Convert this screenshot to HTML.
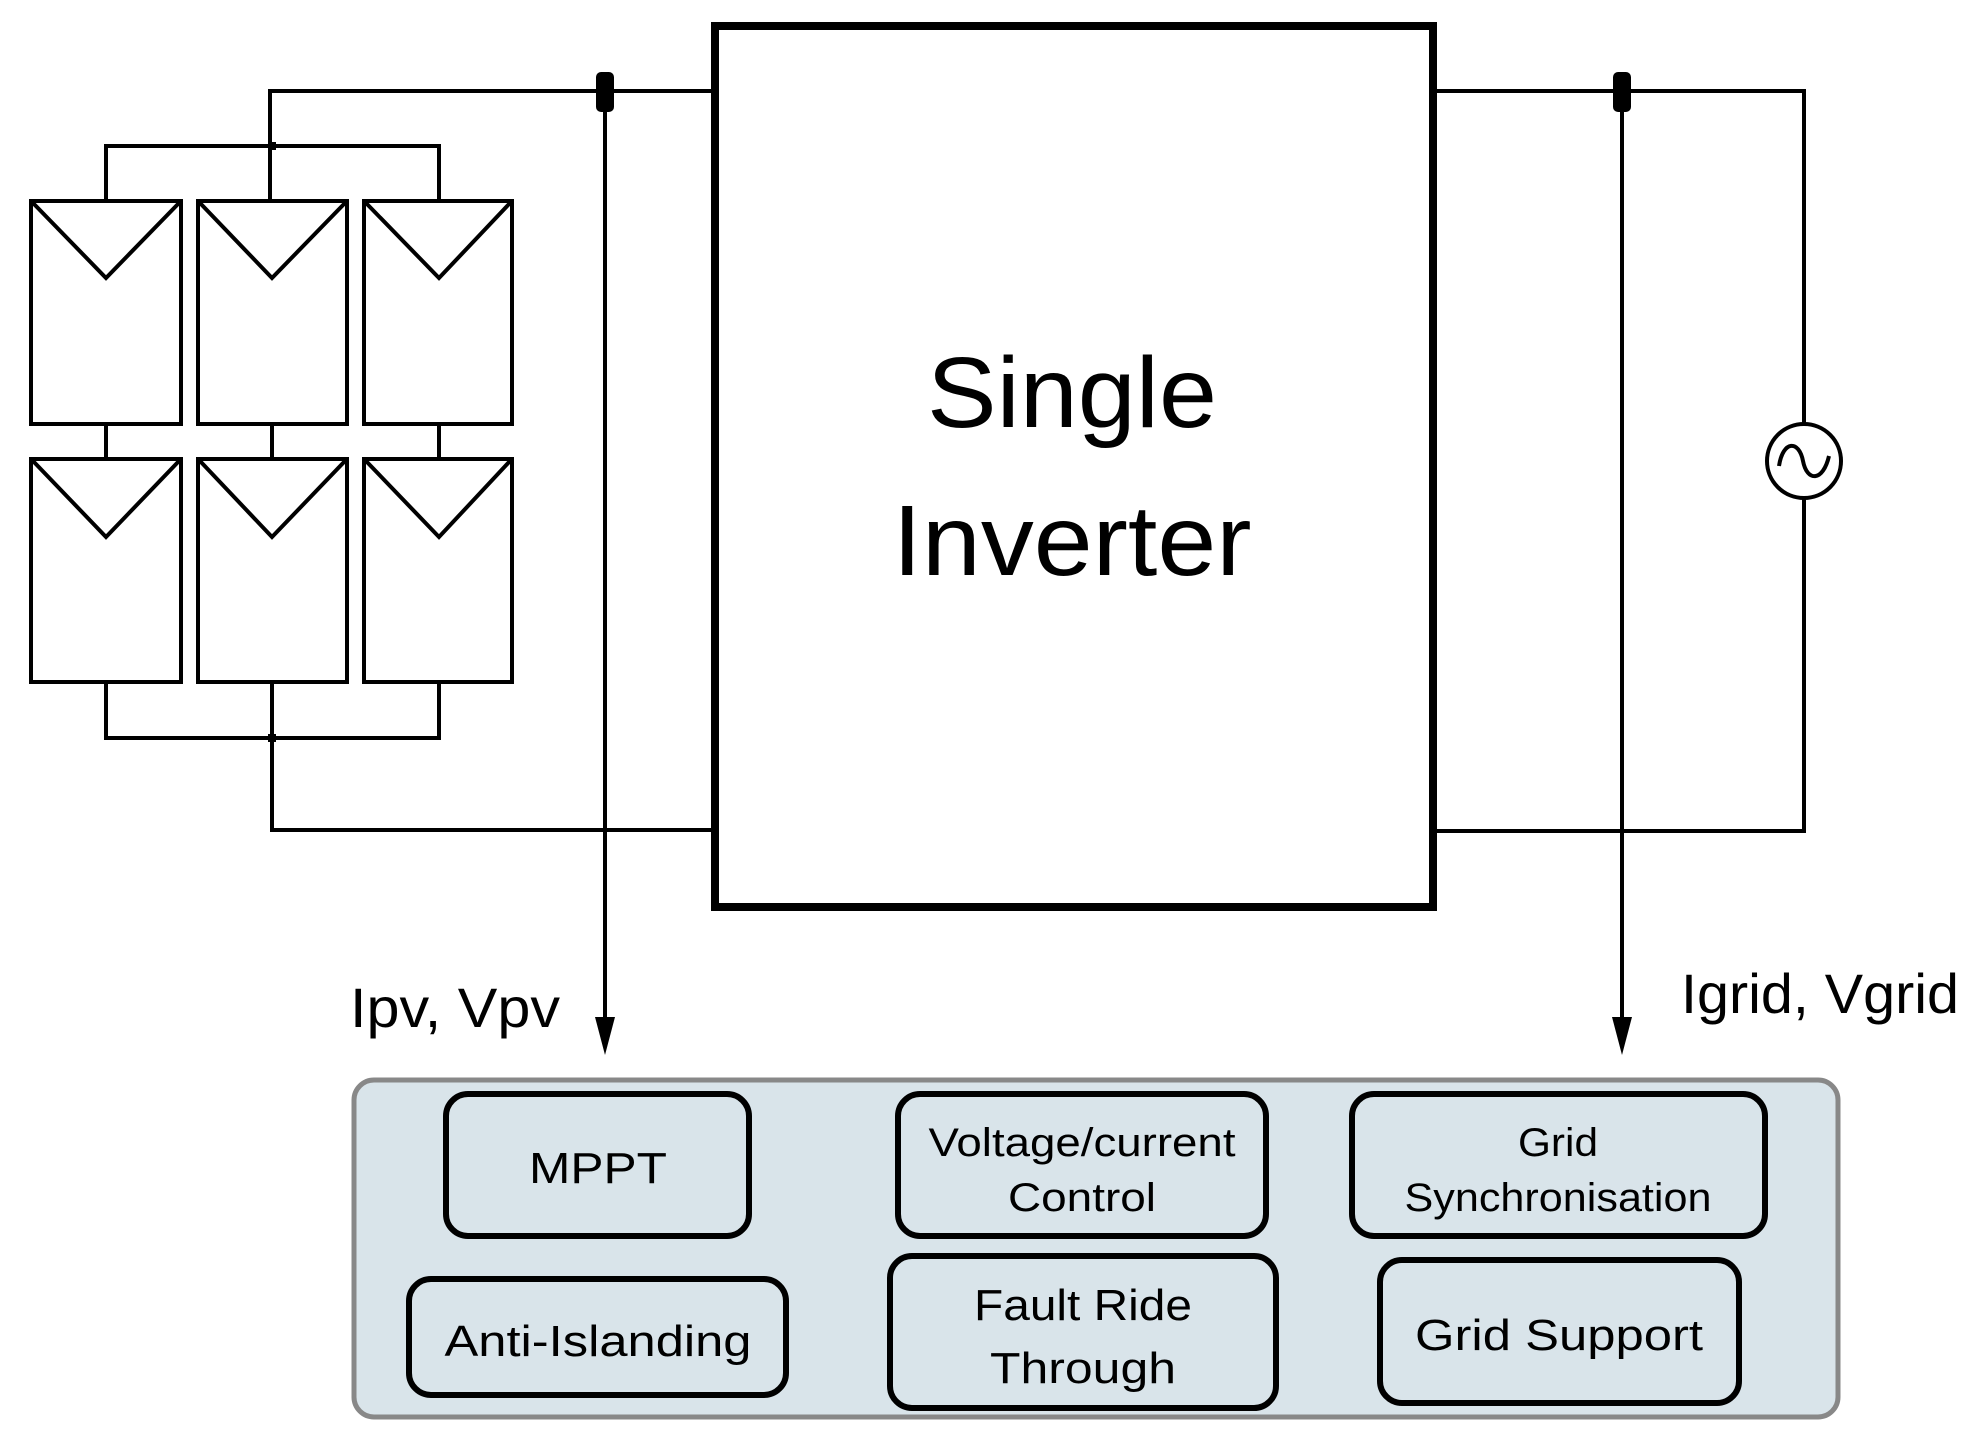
<!DOCTYPE html>
<html><head><meta charset="utf-8"><style>html,body{margin:0;padding:0;background:#fff}svg{display:block}</style></head>
<body>
<svg width="1975" height="1437" viewBox="0 0 1975 1437" xmlns="http://www.w3.org/2000/svg" font-family="'Liberation Sans', sans-serif">
<g stroke="#000" stroke-width="4" fill="none">
<polyline points="715,91 270,91 270,146"/>
<polyline points="106,201 106,146 439,146 439,201"/>
<line x1="270" y1="146" x2="270" y2="201"/>
<line x1="106" y1="424" x2="106" y2="459"/>
<line x1="272" y1="424" x2="272" y2="459"/>
<line x1="439" y1="424" x2="439" y2="459"/>
<polyline points="106,682 106,738 439,738 439,682"/>
<polyline points="272,682 272,830 715,830"/>
<rect x="31" y="201" width="150" height="223"/>
<rect x="198" y="201" width="149" height="223"/>
<rect x="364" y="201" width="148" height="223"/>
<rect x="31" y="459" width="150" height="223"/>
<rect x="198" y="459" width="149" height="223"/>
<rect x="364" y="459" width="148" height="223"/>
<polyline points="33,203 106,278 179,203"/>
<polyline points="200,203 272,278 345,203"/>
<polyline points="366,203 439,278 510,203"/>
<polyline points="33,461 106,537 179,461"/>
<polyline points="200,461 272,537 345,461"/>
<polyline points="366,461 439,537 510,461"/>
<polyline points="1433,91 1804,91 1804,423"/>
<polyline points="1804,499 1804,831 1433,831"/>
<circle cx="1804" cy="461" r="37"/>
<path d="M1779,466 C1783,440 1799,440 1803,461 C1807,482 1823,482 1829,456"/>
<line x1="605" y1="100" x2="605" y2="1020"/>
<line x1="1622" y1="100" x2="1622" y2="1020"/>
</g>
<rect x="268" y="142" width="8" height="8" fill="#000"/>
<rect x="268" y="734" width="8" height="8" fill="#000"/>
<rect x="596" y="72" width="18" height="40" rx="5" fill="#000"/>
<rect x="1613" y="72" width="18" height="40" rx="5" fill="#000"/>
<polygon points="595,1017 615,1017 605,1055" fill="#000"/>
<polygon points="1612,1017 1632,1017 1622,1055" fill="#000"/>
<rect x="715" y="26" width="718" height="881" fill="none" stroke="#000" stroke-width="8"/>
<text x="1072" y="427" font-size="100" text-anchor="middle" textLength="290" lengthAdjust="spacingAndGlyphs">Single</text>
<text x="1072" y="575" font-size="100" text-anchor="middle" textLength="359" lengthAdjust="spacingAndGlyphs">Inverter</text>
<text x="350" y="1027" font-size="56" textLength="210" lengthAdjust="spacingAndGlyphs">Ipv, Vpv</text>
<text x="1681" y="1013" font-size="56" textLength="278" lengthAdjust="spacingAndGlyphs">Igrid, Vgrid</text>
<rect x="354" y="1080" width="1484" height="337" rx="20" fill="#d9e4ea" stroke="#888" stroke-width="5"/>
<g fill="none" stroke="#000" stroke-width="6">
<rect x="446" y="1094" width="303" height="142" rx="22"/>
<rect x="898" y="1094" width="368" height="142" rx="22"/>
<rect x="1352" y="1094" width="413" height="142" rx="22"/>
<rect x="409" y="1279" width="377" height="116" rx="22"/>
<rect x="890" y="1256" width="386" height="152" rx="22"/>
<rect x="1380" y="1260" width="359" height="143" rx="22"/>
</g>
<g font-size="44" text-anchor="middle">
<text x="598" y="1183" textLength="138" lengthAdjust="spacingAndGlyphs">MPPT</text>
<text x="1082" y="1156" font-size="40" textLength="307" lengthAdjust="spacingAndGlyphs">Voltage/current</text>
<text x="1082" y="1211" font-size="40" textLength="148" lengthAdjust="spacingAndGlyphs">Control</text>
<text x="1558" y="1156" font-size="40" textLength="80" lengthAdjust="spacingAndGlyphs">Grid</text>
<text x="1558" y="1211" font-size="40" textLength="307" lengthAdjust="spacingAndGlyphs">Synchronisation</text>
<text x="598" y="1356" textLength="307" lengthAdjust="spacingAndGlyphs">Anti-Islanding</text>
<text x="1083" y="1320" textLength="218" lengthAdjust="spacingAndGlyphs">Fault Ride</text>
<text x="1083" y="1383" textLength="186" lengthAdjust="spacingAndGlyphs">Through</text>
<text x="1559" y="1350" textLength="288" lengthAdjust="spacingAndGlyphs">Grid Support</text>
</g>
</svg>
</body></html>
